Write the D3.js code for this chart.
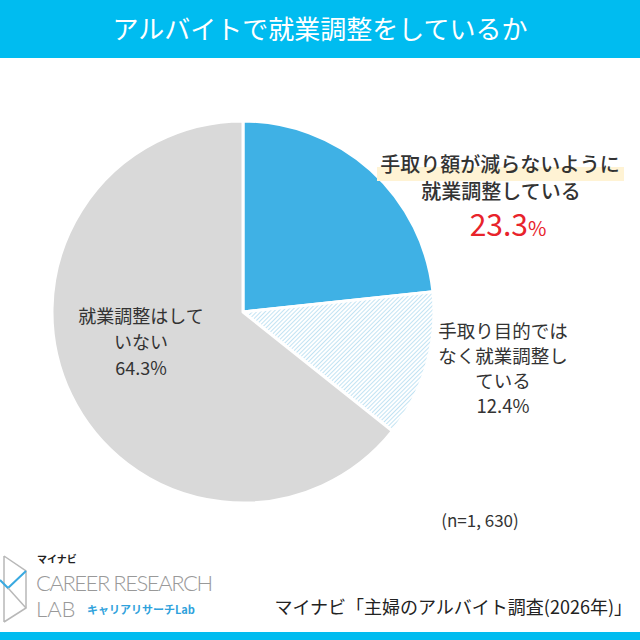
<!DOCTYPE html>
<meta charset="utf-8">
<style>
  body { margin: 0; background: #fff; }
  svg { display: block; font-family: "Noto Sans CJK JP", "Noto Sans", sans-serif; }
  .lbl { fill: #333; text-anchor: middle; }
  .logo-word { font-family: Lato, "Open Sans", sans-serif; font-weight: 300; fill: #999; }
</style>
<body></body>
<script src="https://d3js.org/d3.v7.min.js"></script>
<script>
// chart data
var title = "アルバイトで就業調整をしているか";
var categories = ["手取り額が減らないように就業調整している", "手取り目的ではなく就業調整している", "就業調整はしていない"];
var values = [23.3, 12.4, 64.3];
var sampleNote = "(n=1, 630)";
var source = "マイナビ「主婦のアルバイト調査(2026年)」";

var sliceFill = ["#3fb1e5", "url(#hatch)", "#d9d9d9"];

var width = 640, height = 640;
var cx = 243, cy = 312, radius = 191;

var svg = d3.select("body").append("svg")
    .attr("width", width)
    .attr("height", height);

// hatch pattern for the middle slice
var defs = svg.append("defs");
var pat = defs.append("pattern")
    .attr("id", "hatch")
    .attr("patternUnits", "userSpaceOnUse")
    .attr("width", 3).attr("height", 3)
    .attr("patternTransform", "rotate(45)");
pat.append("rect").attr("width", 3).attr("height", 3).attr("fill", "#fff");
pat.append("line").attr("x1", 0).attr("y1", 0).attr("x2", 0).attr("y2", 3)
    .attr("stroke", "#a8d7ee").attr("stroke-width", 1.4);

// title bar
svg.append("rect").attr("x", 0).attr("y", 0).attr("width", width).attr("height", 58)
    .attr("fill", "#00bcf0");
svg.append("text")
    .attr("x", width / 2).attr("y", 39)
    .attr("text-anchor", "middle")
    .attr("fill", "#fff")
    .attr("font-size", 26)
    .text(title);

// pie
var pie = d3.pie().sort(null).value(d => d);
var arc = d3.arc().innerRadius(0).outerRadius(radius);
var g = svg.append("g").attr("transform", `translate(${cx},${cy})`);
g.selectAll("path")
    .data(pie(values))
    .enter().append("path")
    .attr("d", arc)
    .attr("fill", (d, i) => sliceFill[i])
    .attr("stroke", "#fff")
    .attr("stroke-width", 3)
    .attr("stroke-linejoin", "round");

// label for slice 1 (highlighted)
svg.append("rect").attr("x", 377).attr("y", 167).attr("width", 247).attr("height", 14)
    .attr("fill", "#fff3d4");
svg.append("text").attr("class", "lbl").attr("x", 500).attr("y", 172)
    .attr("font-size", 20).attr("font-weight", 500).attr("fill", "#222")
    .text("手取り額が減らないように");
svg.append("text").attr("class", "lbl").attr("x", 501).attr("y", 199)
    .attr("font-size", 20).attr("font-weight", 500).attr("fill", "#222")
    .text("就業調整している");
var pct1 = svg.append("text").attr("x", 508).attr("y", 236)
    .attr("text-anchor", "middle").attr("fill", "#e8232b").attr("font-size", 30);
pct1.append("tspan").text(values[0].toFixed(1));
pct1.append("tspan").attr("font-size", 20).text("%");

// label for slice 2
var l2 = ["手取り目的では", "なく就業調整し", "ている", values[1].toFixed(1) + "%"];
svg.selectAll(".l2").data(l2).enter().append("text")
    .attr("class", "lbl l2")
    .attr("x", 503).attr("y", (d, i) => 338 + i * 25)
    .attr("font-size", 18.5)
    .text(d => d);

// label for slice 3
var l3 = ["就業調整はして", "いない", values[2].toFixed(1) + "%"];
svg.selectAll(".l3").data(l3).enter().append("text")
    .attr("class", "lbl l3")
    .attr("x", 141).attr("y", (d, i) => 323 + i * 26)
    .attr("font-size", 18)
    .text(d => d);

// sample size note
svg.append("text").attr("class", "lbl").attr("x", 480).attr("y", 527)
    .attr("font-size", 17).text(sampleNote);

// source
svg.append("text").attr("x", 632).attr("y", 614)
    .attr("text-anchor", "end").attr("fill", "#222").attr("font-size", 18)
    .text(source);

// logo
var logo = svg.append("g");
logo.append("path")
    .attr("d", "M4,556 L26,571 L26,608 L4,622 M4,556 L4,622")
    .attr("fill", "none").attr("stroke", "#b8b8b8").attr("stroke-width", 1.5);
logo.append("path")
    .attr("d", "M0,580 L8,588 L26,571")
    .attr("fill", "none").attr("stroke", "#39a9e0").attr("stroke-width", 2);
logo.append("path")
    .attr("d", "M8,588 L26,608")
    .attr("fill", "none").attr("stroke", "#b8b8b8").attr("stroke-width", 1.5);
logo.append("text").attr("x", 37).attr("y", 563).attr("font-size", 10).attr("font-weight", 700)
    .attr("fill", "#222").text("マイナビ");
logo.append("text").attr("class", "logo-word").attr("x", 36).attr("y", 591).attr("font-size", 22)
    .attr("textLength", 177).text("CAREER RESEARCH");
logo.append("text").attr("class", "logo-word").attr("x", 36).attr("y", 617).attr("font-size", 22)
    .text("LAB");
logo.append("text").attr("x", 87).attr("y", 614).attr("font-size", 11).attr("font-weight", 700)
    .attr("fill", "#2fa2dc").text("キャリアリサーチLab");

// bottom stripe
svg.append("rect").attr("x", 0).attr("y", 632).attr("width", width).attr("height", 8)
    .attr("fill", "#00bcf0");
</script>
